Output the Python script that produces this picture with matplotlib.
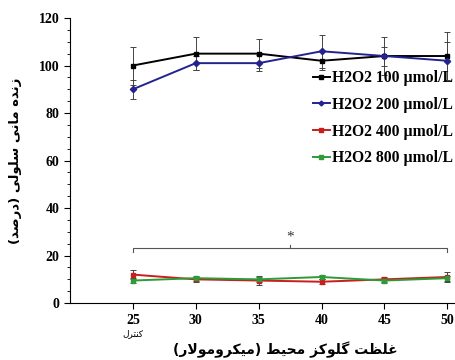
import matplotlib
matplotlib.use("Agg")
import matplotlib.pyplot as plt
from matplotlib.ticker import MultipleLocator
from matplotlib.lines import Line2D
import matplotlib.transforms as mtrans

# glucose concentration (x) and viability (%) for each H2O2 dose
glucose = [25, 30, 35, 40, 45, 50]
h100 = [100, 105, 105, 102, 104, 104]
h100_err = [8, 7, 6, 4, 8, 10]
h200 = [90, 101, 101, 106, 104, 102]
h200_err = [4, 3, 3.5, 7, 4, 8]
h400 = [12, 10, 9.5, 9, 10, 11]
h400_err = [2, 1, 2, 1, 1, 2]
h800 = [9.5, 10.5, 10, 11, 9.5, 10.5]
h800_err = [1, 1, 1, 1, 1, 1]
labels = ["H2O2 100 \u00b5mol/L", "H2O2 200 \u00b5mol/L",
          "H2O2 400 \u00b5mol/L", "H2O2 800 \u00b5mol/L"]
colors = ["#000000", "#23238f", "#c81e1e", "#2f9a36"]

xlabel_fa = "غلظت گلوکز محیط (میکرومولار)"
ylabel_fa = "زنده مانی سلولی (درصد)"
control_fa = "کنترل"

# minimal arabic/persian shaping (matplotlib does no shaping or bidi)
FORMS = {
    "ا": (0xFE8D, 0xFE8E, None, None),
    "ت": (0xFE95, 0xFE96, 0xFE97, 0xFE98),
    "ح": (0xFEA1, 0xFEA2, 0xFEA3, 0xFEA4),
    "د": (0xFEA9, 0xFEAA, None, None),
    "ر": (0xFEAD, 0xFEAE, None, None),
    "ز": (0xFEAF, 0xFEB0, None, None),
    "س": (0xFEB1, 0xFEB2, 0xFEB3, 0xFEB4),
    "ص": (0xFEB9, 0xFEBA, 0xFEBB, 0xFEBC),
    "ط": (0xFEC1, 0xFEC2, 0xFEC3, 0xFEC4),
    "ظ": (0xFEC5, 0xFEC6, 0xFEC7, 0xFEC8),
    "غ": (0xFECD, 0xFECE, 0xFECF, 0xFED0),
    "ل": (0xFEDD, 0xFEDE, 0xFEDF, 0xFEE0),
    "م": (0xFEE1, 0xFEE2, 0xFEE3, 0xFEE4),
    "ن": (0xFEE5, 0xFEE6, 0xFEE7, 0xFEE8),
    "ه": (0xFEE9, 0xFEEA, 0xFEEB, 0xFEEC),
    "و": (0xFEED, 0xFEEE, None, None),
    "ک": (0xFB8E, 0xFB8F, 0xFB90, 0xFB91),
    "گ": (0xFB92, 0xFB93, 0xFB94, 0xFB95),
    "ی": (0xFBFC, 0xFBFD, 0xFBFE, 0xFBFF),
}


def dual(c):
    return c in FORMS and FORMS[c][2] is not None


def shape(text):
    out = []
    chars = list(text)
    i = 0
    while i < len(chars):
        c = chars[i]
        if c not in FORMS:
            out.append(c)
            i += 1
            continue
        prev_joins = i > 0 and dual(chars[i - 1])
        # lam-alef ligature
        if c == "ل" and i + 1 < len(chars) and chars[i + 1] == "ا":
            out.append(chr(0xFEFC if prev_joins else 0xFEFB))
            i += 2
            continue
        next_joins = dual(c) and i + 1 < len(chars) and chars[i + 1] in FORMS
        iso, fin, ini, med = FORMS[c]
        if prev_joins and next_joins:
            f = med
        elif prev_joins:
            f = fin
        elif next_joins:
            f = ini
        else:
            f = iso
        out.append(chr(f))
        i += 1
    vis = "".join(reversed(out))
    return vis.translate(str.maketrans("()", ")("))


plt.rcParams["font.family"] = ["Liberation Serif", "DejaVu Sans"]

fig = plt.figure(figsize=(4.56, 3.6), dpi=100)
ax = fig.add_axes([0.1535, 0.158, 0.844, 0.792])

series = [(h100, h100_err), (h200, h200_err), (h400, h400_err), (h800, h800_err)]
markers = ["s", "D", "s", "s"]
handles = []
for (vals, errs), col, lab, mk in zip(series, colors, labels, markers):
    ax.errorbar(glucose, vals, yerr=errs, color=col, lw=1.4, marker=mk,
                ms=3.2, ecolor="#444444", elinewidth=0.7, capsize=2.2,
                capthick=0.7)
    handles.append(Line2D([], [], color=col, lw=1.4, marker=mk, ms=2.5, label=lab))

# significance bracket
ax.plot([25, 25, 50, 50], [21.5, 23.2, 23.2, 21.5], color="#555555", lw=0.8)
ax.plot([37.5, 37.5], [23.2, 24.6], color="#555555", lw=0.8)
ax.text(37.5, 25, "*", ha="center", va="bottom", fontsize=11, color="#333333")

ax.set_xlim(20, 50.6)
ax.set_ylim(0, 120)
ax.set_xticks(glucose)
ax.yaxis.set_major_locator(MultipleLocator(20))
ax.yaxis.set_minor_locator(MultipleLocator(5))
ax.spines["top"].set_visible(False)
ax.spines["right"].set_visible(False)
ax.tick_params(axis="both", which="major", labelsize=10, length=4, width=0.8)
ax.tick_params(axis="y", which="minor", length=2.5, width=0.6)
for t in ax.get_xticklabels() + ax.get_yticklabels():
    t.set_fontweight("bold")

trans = mtrans.blended_transform_factory(ax.transData, ax.transAxes)
ax.text(25, -0.09, shape(control_fa), transform=trans, ha="center",
        va="top", fontsize=6.5, family="DejaVu Sans")

ax.set_xlabel(shape(xlabel_fa), family="DejaVu Sans", fontweight="bold",
              fontsize=10, labelpad=12)
ax.xaxis.set_label_coords(0.56, -0.135)
ax.set_ylabel(shape(ylabel_fa), family="DejaVu Sans", fontweight="bold",
              fontsize=9.5, labelpad=12)

leg = ax.legend(handles=handles, loc="upper right", bbox_to_anchor=(1.02, 0.85),
                frameon=False,
                prop={"family": "Liberation Serif", "weight": "bold", "size": 11.3},
                handlelength=1.1, handletextpad=0.15, labelspacing=0.68,
                borderaxespad=0.2)

fig.savefig("out.png", dpi=100)
